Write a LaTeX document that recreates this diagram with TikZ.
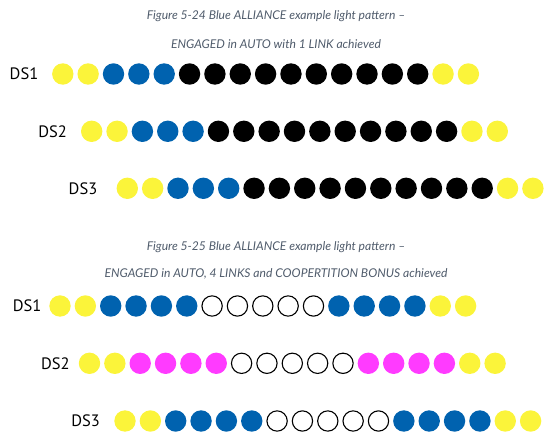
\documentclass[tikz,border=0pt]{standalone}
\usepackage{fontspec}
\usepackage{xcolor}
\usetikzlibrary{positioning}
\newfontfamily\dsfont{PT Sans}
\newfontfamily\capfont{Lato}
\definecolor{ledyellow}{HTML}{FBF43A}
\definecolor{ledblue}{HTML}{0062AF}
\definecolor{ledpink}{HTML}{FF3BFF}
\definecolor{capgray}{HTML}{4F5B6B}

\begin{document}
\begin{tikzpicture}[x=1pt, y=-1pt,
  led/.style={circle, minimum size=21.4pt, inner sep=0pt, outer sep=0pt},
  ledY/.style={led, fill=ledyellow},
  ledB/.style={led, fill=ledblue},
  ledK/.style={led, fill=black},
  ledP/.style={led, fill=ledpink},
  ledW/.style={led, draw=black, line width=1.1pt, minimum size=20.3pt},
  dslabel/.style={font=\dsfont\fontsize{16.5}{18}\selectfont, inner sep=0pt},
  figcap/.style={font=\capfont\itshape\fontsize{12.1}{14}\selectfont, text=capgray, inner sep=0pt}
]
\useasboundingbox (0,0) rectangle (552,443);

% Figure 5-24
\node[figcap] (cap1a) at (276,16) {Figure 5-24 Blue ALLIANCE example light pattern –};
\node[figcap] (cap1b) at (276,44) {ENGAGED in AUTO with 1 LINK achieved};

\node[dslabel] (a1) at (24,74) {DS1};
\node[dslabel] (a2) at (52.7,131.3) {DS2};
\node[dslabel] (a3) at (83,188.3) {DS3};

% Figure 5-25
\node[figcap] (cap2a) at (276,246.7) {Figure 5-25 Blue ALLIANCE example light pattern –};
\node[figcap] (cap2b) at (276,274.3) {ENGAGED in AUTO, 4 LINKS and COOPERTITION BONUS achieved};

\node[dslabel] (b1) at (27.2,306) {DS1};
\node[dslabel] (b2) at (55.3,363.3) {DS2};
\node[dslabel] (b3) at (85.7,421) {DS3};

% light rows: name / first led / pattern
\foreach \row/\x/\y/\pattern in {
    a1/62.8/74/{Y,Y,B,B,B,K,K,K,K,K,K,K,K,K,K,Y,Y},
    a2/91.7/131.3/{Y,Y,B,B,B,K,K,K,K,K,K,K,K,K,K,Y,Y},
    a3/127.3/188.3/{Y,Y,B,B,B,K,K,K,K,K,K,K,K,K,K,Y,Y},
    b1/60/306/{Y,Y,B,B,B,B,W,W,W,W,W,B,B,B,B,Y,Y},
    b2/89.5/363.3/{Y,Y,P,P,P,P,W,W,W,W,W,P,P,P,P,Y,Y},
    b3/125/421/{Y,Y,B,B,B,B,W,W,W,W,W,B,B,B,B,Y,Y}}{
  \foreach \c [count=\i] in \pattern {
    \node[led\c] (\row-\i) at ({\x+(\i-1)*25.35},\y) {};
  }
}
\end{tikzpicture}
\end{document}
